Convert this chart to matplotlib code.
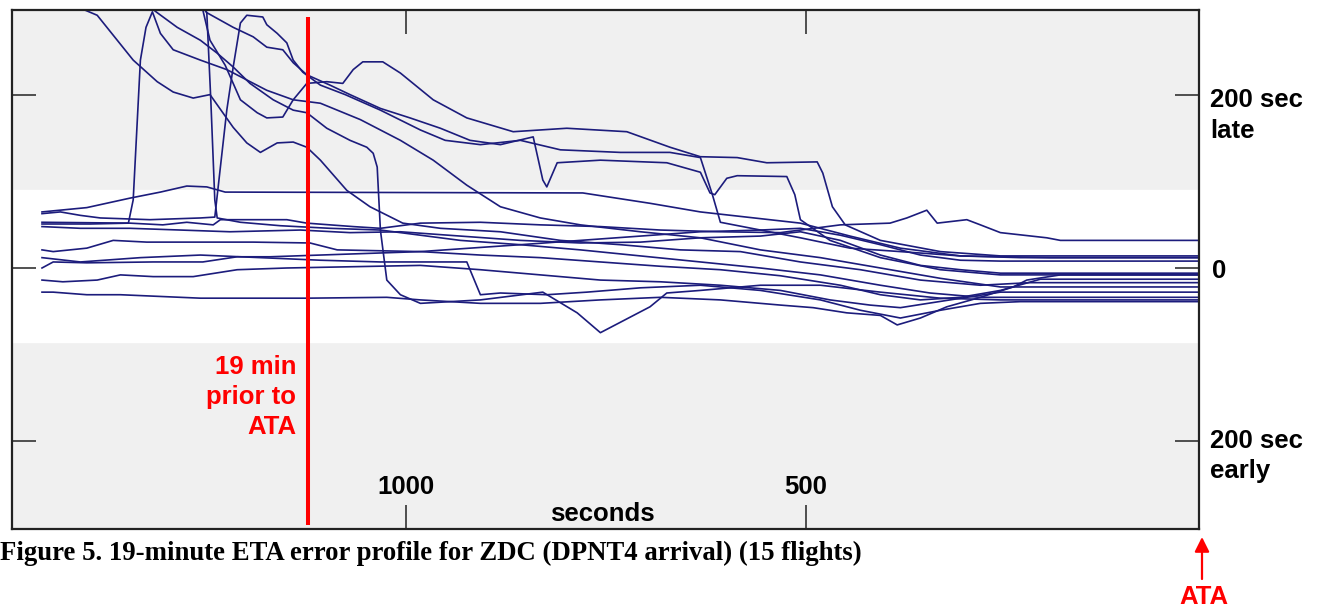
import matplotlib
matplotlib.use("Agg")
import matplotlib.pyplot as plt

# time to go before ATA (sec) and ETA error (sec, positive = late), one pair per flight
t1 = [1455, 1399, 1345, 1307, 1274, 1249, 1226, 779, 695, 632, 507, 445, 382, 307, 195, 0]
e1 = [65, 70, 81, 88, 95, 94, 88, 87, 75, 65, 52, 37, 23, 14, 12, 12]

t2 = [1455, 1432, 1386, 1341, 1311, 1291, 1266, 1245, 1216, 1199, 1182, 1161, 1141, 1124, 1107,
      1074, 1045, 1004, 957, 882, 807, 732, 657, 582, 507, 432, 357, 282, 220, 0]
e2 = [334, 311, 293, 241, 216, 204, 197, 201, 163, 145, 134, 145, 146, 140, 125,
      90, 71, 52, 46, 42, 32, 27, 21, 19, 7, -2, -14, -20, -17, -17]

t3 = [1455, 1395, 1347, 1341, 1332, 1325, 1317, 1307, 1291, 1257, 1224, 1174, 1141, 1107, 1057,
      1007, 966, 924, 882, 832, 782, 707, 632, 557, 482, 407, 332, 257, 0]
e3 = [51, 51, 52, 79, 241, 279, 297, 272, 253, 241, 230, 206, 195, 191, 172,
      148, 125, 96, 71, 58, 50, 42, 35, 21, 12, 0, -12, -22, -22]

t4 = [1455, 1432, 1407, 1382, 1320, 1257, 1239, 1232, 1224, 1216, 1207, 1199, 1179, 1174, 1161,
      1149, 1141, 1129, 1107, 1076, 1032, 982, 951, 907, 857, 807, 732, 670, 632, 617, 607, 557,
      507, 445, 382, 307, 232, 0]
e4 = [63, 65, 61, 58, 56, 58, 59, 117, 183, 233, 284, 293, 291, 282, 272,
      261, 241, 227, 212, 201, 183, 160, 148, 143, 148, 137, 134, 134, 128, 85, 53, 44,
      35, 23, 19, 14, 12, 12]

t5 = [1455, 1320, 1257, 1249, 1244, 1239, 1236, 1207, 1157, 1095, 1032, 982, 932, 857, 782,
      707, 632, 557, 482, 407, 345, 282, 232, 0]
e5 = [380, 357, 311, 296, 195, 79, 58, 53, 49, 46, 44, 38, 32, 27, 21,
      14, 7, 0, -8, -20, -29, -34, -34, -34]

t6 = [1455, 1320, 1257, 1249, 1216, 1191, 1174, 1154, 1141, 1124, 1095, 1070, 1032, 995, 957,
      920, 882, 841, 829, 824, 811, 757, 674, 632, 620, 614, 599, 586, 524, 514, 507, 470,
      407, 332, 257, 0]
e6 = [403, 346, 305, 296, 279, 268, 256, 253, 238, 224, 212, 201, 185, 174, 162,
      148, 143, 152, 102, 94, 122, 125, 122, 111, 87, 85, 104, 107, 106, 85, 56, 32,
      12, -2, -8, -8]

t7 = [1455, 1332, 1311, 1286, 1257, 1236, 1216, 1195, 1166, 1141, 1124, 1099, 1070, 1049, 1041,
      1036, 1032, 1024, 1007, 982, 907, 829, 786, 757, 695, 674, 632, 557, 482, 407, 332,
      257, 0]
e7 = [369, 311, 296, 279, 264, 249, 233, 214, 195, 183, 180, 162, 148, 140, 133,
      117, 44, -14, -31, -41, -37, -28, -52, -75, -45, -29, -26, -20, -20, -28, -35,
      -37, -37]

t8 = [1455, 1320, 1257, 1245, 1226, 1216, 1207, 1186, 1174, 1154, 1141, 1124, 1099, 1079, 1066,
      1054, 1029, 1007, 966, 924, 866, 799, 724, 670, 632, 586, 549, 486, 479, 467, 451,
      407, 332, 257, 0]
e8 = [427, 369, 311, 264, 235, 214, 195, 180, 174, 175, 195, 214, 216, 214, 230,
      239, 239, 226, 195, 174, 158, 162, 158, 140, 129, 128, 122, 123, 110, 71, 50,
      32, 19, 14, 14]

t9 = [1455, 1345, 1304, 1274, 1241, 1232, 1149, 1124, 1066, 1032, 982, 907, 832, 757, 682,
      607, 532, 457, 395, 374, 349, 336, 299, 282, 257, 199, 182, 0]
e9 = [53, 52, 50, 53, 50, 56, 56, 52, 48, 46, 52, 53, 50, 48, 44,
      42, 41, 50, 52, 58, 67, 52, 56, 50, 41, 35, 32, 32]

t10 = [1455, 1407, 1345, 1282, 1220, 1132, 1070, 1007, 932, 857, 782, 707, 632, 557, 507,
       457, 407, 357, 307, 257, 0]
e10 = [48, 46, 46, 44, 42, 44, 41, 42, 37, 32, 29, 30, 35, 37, 42,
       32, 15, 3, -2, -6, -6]

t11 = [1455, 1441, 1399, 1366, 1324, 1191, 1120, 1086, 982, 907, 832, 757, 682, 607, 532,
       457, 407, 357, 307, 257, 207, 0]
e11 = [21, 19, 23, 32, 30, 30, 29, 21, 19, 15, 12, 7, 2, -2, -9,
       -20, -31, -37, -34, -26, -13, -13]

t12 = [1455, 1441, 1399, 1316, 1254, 1211, 1170, 982, 920, 857, 782, 707, 632, 557, 507,
       457, 407, 357, 307, 257, 0]
e12 = [0, 7, 6, 7, 7, 13, 13, 19, 23, 27, 32, 37, 42, 44, 46,
       38, 27, 15, 9, 8, 8]

t13 = [1455, 1429, 1386, 1357, 1316, 1266, 1211, 1149, 982, 907, 832, 757, 682, 607, 532,
       470, 420, 382, 320, 257, 0]
e13 = [-14, -16, -14, -8, -10, -10, -2, 0, 3, -2, -8, -14, -16, -20, -26,
       -37, -43, -46, -37, -28, -28]

t14 = [1455, 1441, 1399, 1357, 1257, 1124, 1024, 982, 907, 832, 757, 682, 607, 532, 491,
       449, 407, 386, 357, 324, 282, 241, 224, 182, 0]
e14 = [-28, -28, -31, -31, -35, -35, -34, -37, -41, -41, -37, -34, -37, -43, -46,
       -52, -55, -66, -58, -45, -34, -22, -14, -8, -8]

t15 = [1455, 1407, 1332, 1257, 1182, 1107, 1032, 957, 924, 920, 907, 882, 824, 774, 707,
       632, 557, 482, 432, 382, 332, 282, 232, 0]
e15 = [12, 7, 12, 15, 12, 9, 7, 7, 7, -2, -31, -29, -31, -28, -23,
       -20, -26, -37, -49, -58, -49, -41, -39, -39]

flights = [(t1, e1), (t2, e2), (t3, e3), (t4, e4), (t5, e5), (t6, e6), (t7, e7), (t8, e8),
           (t9, e9), (t10, e10), (t11, e11), (t12, e12), (t13, e13), (t14, e14), (t15, e15)]

x_ticks = [1000, 500]
y_ticks = [200, 0, -200]
band_top, band_bottom = 90, -86   # white "acceptable" band
cutoff = 1122                     # 19 min prior to ATA marker

W, H = 1329, 608
fig = plt.figure(figsize=(W / 100, H / 100), dpi=100)
ax = fig.add_axes([12 / W, 1 - 529 / H, (1199 - 12) / W, (529 - 10) / H])
ax.set_facecolor("#f0f0f0")
ax.axhspan(band_bottom, band_top, color="white", zorder=0)

for t, e in flights:
    ax.plot(t, e, color="#1c1c7c", lw=1.2, zorder=2)

ax.vlines(cutoff, -298, 291, color="#ff0000", lw=2.9, zorder=3)

ax.set_xlim(1492.5, 8.75)
ax.set_ylim(-302.6, 299.1)
ax.set_xticks(x_ticks)
ax.set_yticks(y_ticks)
ax.tick_params(direction="in", length=17, width=1.2, color="#333333",
               top=True, right=True, labelbottom=False, labelleft=False)
for s in ax.spines.values():
    s.set_linewidth(1.6)
    s.set_color("#222222")

sans = ["Liberation Sans", "DejaVu Sans"]
for v in x_ticks:
    ax.text(v, -254, str(v), ha="center", va="center", fontsize=18.5,
            fontweight="bold", family=sans)
ax.text(754, -285, "seconds", ha="center", va="center", fontsize=18.5,
        fontweight="bold", family=sans)
ax.text(1137, -150, "19 min\nprior to\nATA", ha="right", va="center", color="#ff0000",
        fontsize=18.5, fontweight="bold", family=sans, linespacing=1.32,
        multialignment="right")

fig.text(1210 / W, 1 - 115.5 / H, "200 sec\nlate", ha="left", va="center",
         fontsize=18.5, fontweight="bold", family=sans, linespacing=1.32)
fig.text(1212 / W, 1 - 271.5 / H, "0", ha="left", va="center",
         fontsize=18.5, fontweight="bold", family=sans)
fig.text(1210 / W, 1 - 456 / H, "200 sec\nearly", ha="left", va="center",
         fontsize=18.5, fontweight="bold", family=sans, linespacing=1.32)

fig.text(0, 1 - 553 / H, "Figure 5. 19-minute ETA error profile for ZDC (DPNT4 arrival) (15 flights)",
         ha="left", va="center", fontsize=19.3, fontweight="bold",
         family=["Liberation Serif", "DejaVu Serif"])

ax.annotate("", xy=(1202, H - 537), xytext=(1202, H - 579), xycoords="figure pixels",
            textcoords="figure pixels", annotation_clip=False,
            arrowprops=dict(arrowstyle="-|>", color="#ff0000", lw=1.6, mutation_scale=22,
                            shrinkA=0, shrinkB=0))
fig.text(1204 / W, 1 - 597 / H, "ATA", ha="center", va="center", color="#ff0000",
         fontsize=18.5, fontweight="bold", family=sans)

fig.savefig("out.png", dpi=100)
